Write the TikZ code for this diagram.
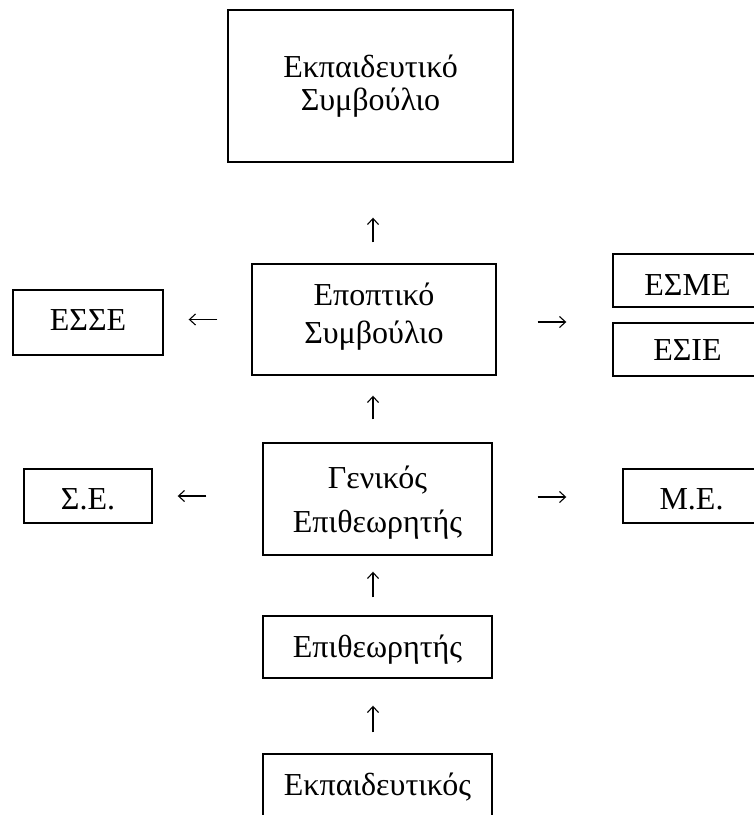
\documentclass[tikz,border=0pt]{standalone}
\usepackage{fontspec}
\setmainfont{Liberation Serif}
\usetikzlibrary{arrows.meta}
\begin{document}
\begin{tikzpicture}[x=1pt,y=-1pt,
  box/.style={draw, line width=1.4pt, inner sep=0pt, text depth=0pt, font=\fontsize{32}{38}\selectfont},
  arr/.style={line width=1.1pt, -{Straight Barb[length=6pt,width=11pt]}}]
\useasboundingbox (0,0) rectangle (754,815);
% boxes
\node[box, minimum width=285pt, minimum height=152pt, text height=48pt] (ekso) at (370.5,86)
  {\parbox[b]{260pt}{\centering\fontsize{32}{33}\selectfont Εκπαιδευτικό\\Συμβούλιο}};
\node[box, minimum width=244pt, minimum height=111pt, text height=47pt] (epo) at (374,319.5)
  {\parbox[b]{230pt}{\centering\fontsize{32}{38}\selectfont Εποπτικό\\Συμβούλιο}};
\node[box, minimum width=229pt, minimum height=112pt, text height=66pt] (gen) at (377.5,499)
  {\parbox[b]{220pt}{\centering\fontsize{32}{44}\selectfont Γενικός\\Επιθεωρητής}};
\node[box, minimum width=150pt, minimum height=65pt, text height=15pt] (esse) at (88,322.5) {ΕΣΣΕ};
\node[box, minimum width=149pt, minimum height=53pt, text height=29pt] (esme) at (687.5,280.5) {ΕΣΜΕ};
\node[box, minimum width=149pt, minimum height=53pt, text height=21pt] (esie) at (687.5,349.5) {ΕΣΙΕ};
\node[box, minimum width=128pt, minimum height=54pt, text height=26pt] (se) at (88,496) {Σ.Ε.};
\node[box, minimum width=137pt, minimum height=54pt, text height=26pt] (me) at (691.5,496) {Μ.Ε.};
\node[box, minimum width=229pt, minimum height=62pt, text height=20pt] (epi) at (377.5,647) {Επιθεωρητής};
\node[box, minimum width=229pt, minimum height=82pt, text height=0pt] (ekp) at (377.5,795) {Εκπαιδευτικός};
% connectors
\draw[arr, shorten <=21pt, shorten >=55pt] ([xshift=-1pt]epo.north) -- ([xshift=-1pt]epo.north |- ekso.south);
\draw[arr, shorten <=23pt, shorten >=20pt] ([xshift=-4.5pt]gen.north) -- ([xshift=-4.5pt]gen.north |- epo.south);
\draw[arr, shorten <=18pt, shorten >=16pt] ([xshift=-4.5pt]epi.north) -- ([xshift=-4.5pt]epi.north |- gen.south);
\draw[arr, shorten <=21pt, shorten >=27pt] ([xshift=-4.5pt]ekp.north) -- ([xshift=-4.5pt]ekp.north |- epi.south);
\draw[arr, shorten <=34pt, shorten >=25pt] (epo.west) -- (epo.west -| esse.east);
\draw[arr, shorten <=41pt, shorten >=46pt] ([yshift=-2.5pt]epo.east) -- ([yshift=-2.5pt]epo.east -| esme.west);
\draw[arr, shorten <=56pt, shorten >=25pt] ([yshift=3pt]gen.west) -- ([yshift=3pt]gen.west -| se.east);
\draw[arr, shorten <=45pt, shorten >=56pt] ([yshift=2pt]gen.east) -- ([yshift=2pt]gen.east -| me.west);
\end{tikzpicture}
\end{document}
